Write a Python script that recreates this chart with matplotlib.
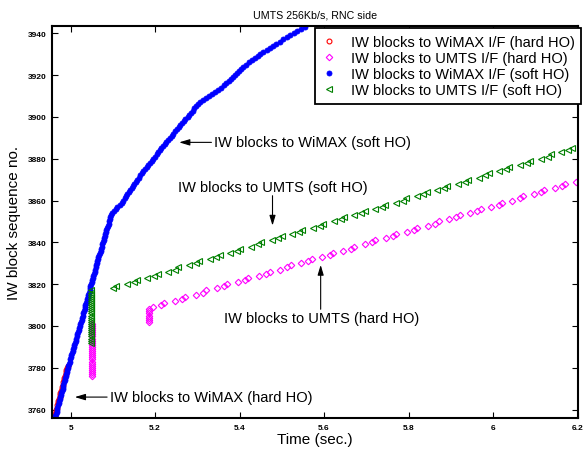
import matplotlib.pyplot as plt

plt.rcParams['font.family'] = ['Liberation Sans', 'DejaVu Sans']

# hard HO, packets to WiMAX I/F
red_seq0 = 3756
red_t = [4.961, 4.962, 4.964, 4.965, 4.966, 4.967, 4.969, 4.970, 4.971, 4.973,
         4.974, 4.975, 4.976, 4.978, 4.979, 4.980, 4.981, 4.983, 4.984, 4.985,
         4.987, 4.988, 4.989, 4.990, 4.992, 4.993]

# hard HO, packets to UMTS I/F
mag_seq0 = 3776
mag_t = [5.050] * 26 + [5.185] * 7 + [
    5.196, 5.213, 5.221, 5.246, 5.263, 5.271, 5.296, 5.313, 5.321, 5.346,
    5.363, 5.371, 5.396, 5.413, 5.421, 5.446, 5.463, 5.471, 5.496, 5.513,
    5.521, 5.546, 5.563, 5.571, 5.596, 5.613, 5.621, 5.646, 5.663, 5.671,
    5.696, 5.713, 5.721, 5.746, 5.763, 5.771, 5.796, 5.813, 5.821, 5.846,
    5.863, 5.871, 5.896, 5.913, 5.921, 5.946, 5.963, 5.971, 5.996, 6.013,
    6.021, 6.046, 6.063, 6.071, 6.096, 6.113, 6.121, 6.146, 6.163, 6.171,
    6.196]

# soft HO, packets to WiMAX I/F
blue_seq0 = 3756
blue_t = [
    4.963, 4.964, 4.966, 4.967, 4.968, 4.969, 4.971, 4.972, 4.973, 4.975,
    4.976, 4.977, 4.978, 4.980, 4.981, 4.982, 4.983, 4.985, 4.986, 4.987,
    4.989, 4.990, 4.991, 4.992, 4.994, 4.995,
    4.996, 4.998, 4.999, 5.000, 5.002, 5.003, 5.005, 5.006, 5.008, 5.009,
    5.010, 5.012, 5.013, 5.015, 5.016, 5.017, 5.019, 5.020, 5.022, 5.023,
    5.025, 5.026, 5.027, 5.029, 5.030,
    5.031, 5.033, 5.034, 5.035, 5.037, 5.038, 5.039, 5.041, 5.042, 5.043,
    5.045, 5.046, 5.047, 5.049, 5.050, 5.051, 5.053, 5.054, 5.055, 5.057,
    5.058, 5.059, 5.061, 5.062,
    5.063, 5.065, 5.066, 5.068, 5.069, 5.071, 5.072, 5.074, 5.075, 5.077,
    5.078, 5.080, 5.081, 5.082, 5.084, 5.085, 5.087, 5.088, 5.090, 5.091,
    5.093, 5.094, 5.096, 5.097,
    5.102, 5.107, 5.111, 5.116, 5.121,
    5.124, 5.128, 5.131, 5.134, 5.138, 5.141, 5.145, 5.148, 5.151, 5.155,
    5.158, 5.162, 5.165, 5.168, 5.172,
    5.176, 5.180, 5.184, 5.188, 5.192, 5.196, 5.200, 5.204, 5.207, 5.211,
    5.215, 5.219, 5.223, 5.227, 5.231, 5.235, 5.239, 5.243,
    5.247, 5.251, 5.256, 5.260, 5.264, 5.268, 5.272, 5.277, 5.281, 5.285,
    5.289, 5.293, 5.298, 5.302, 5.306,
    5.313, 5.320, 5.327, 5.334, 5.341, 5.348, 5.355, 5.362, 5.369,
    5.374, 5.379, 5.384, 5.389, 5.394, 5.399, 5.404, 5.409,
    5.416, 5.422, 5.429, 5.436, 5.443, 5.449, 5.456,
    5.464, 5.472, 5.480, 5.487, 5.495, 5.503,
    5.512, 5.520, 5.529, 5.537, 5.546, 5.554]

# soft HO, packets to UMTS I/F
grn_seq0 = 3792
grn_t = [5.049] * 26 + [
    5.100, 5.108, 5.133, 5.149, 5.157, 5.182, 5.198, 5.206, 5.231, 5.247,
    5.255, 5.280, 5.296, 5.304, 5.329, 5.345, 5.353, 5.378, 5.394, 5.402,
    5.427, 5.443, 5.451, 5.476, 5.492, 5.500, 5.525, 5.541, 5.549, 5.574,
    5.590, 5.598, 5.623, 5.639, 5.647, 5.672, 5.688, 5.696, 5.721, 5.737,
    5.745, 5.770, 5.786, 5.794, 5.819, 5.835, 5.843, 5.868, 5.884, 5.892,
    5.917, 5.933, 5.941, 5.966, 5.982, 5.990, 6.015, 6.031, 6.039, 6.064,
    6.080, 6.088, 6.113, 6.129, 6.137, 6.162, 6.178, 6.186]


def seq(start, times):
    return list(range(start, start + len(times)))


fig = plt.figure(figsize=(5.83, 4.52), dpi=100)
ax = fig.add_axes([52 / 583, 1 - 419 / 452, 525.5 / 583, 391.7 / 452])

ax.plot(red_t, seq(red_seq0, red_t), 'o', ls='none', mfc='none', mec='red',
        ms=3.5, mew=0.8, label='IW blocks to WiMAX I/F (hard HO)')
ax.plot(mag_t, seq(mag_seq0, mag_t), 'D', ls='none', mfc='none', mec='#ff00ff',
        ms=3.3, mew=0.8, label='IW blocks to UMTS I/F (hard HO)')
ax.plot(blue_t, seq(blue_seq0, blue_t), 'o', ls='none', mfc='blue', mec='blue',
        ms=3.6, mew=0.6, label='IW blocks to WiMAX I/F (soft HO)')
ax.plot(grn_t, seq(grn_seq0, grn_t), '<', ls='none', mfc='none', mec='#008000',
        ms=4.2, mew=0.8, label='IW blocks to UMTS I/F (soft HO)')

ax.set_xlim(4.956, 6.2)
ax.set_ylim(3756, 3943.3)
ax.set_xticks([5, 5.2, 5.4, 5.6, 5.8, 6, 6.2])
ax.set_xticklabels(['5', '5.2', '5.4', '5.6', '5.8', '6', '6.2'])
ax.set_yticks(range(3760, 3941, 20))
ax.tick_params(direction='in', length=4, width=0.8, top=True, right=True,
               labelsize=6, pad=4)
for lbl in ax.get_xticklabels() + ax.get_yticklabels():
    lbl.set_fontweight('bold')
for sp in ax.spines.values():
    sp.set_linewidth(1.5)

ax.set_title('UMTS 256Kb/s, RNC side', fontsize=7.7, pad=6)
ax.set_xlabel('Time (sec.)', fontsize=11, labelpad=1)
ax.set_ylabel('IW block sequence no.', fontsize=11, labelpad=5)

leg = ax.legend(loc='upper right', bbox_to_anchor=(1.007, 0.995),
                borderaxespad=0, fontsize=10.5, handlelength=1.0,
                handletextpad=1.0, labelspacing=0.15, borderpad=0.45,
                fancybox=False, framealpha=1, edgecolor='black')
leg.get_frame().set_linewidth(1.3)

arrow = dict(arrowstyle='-|>,head_length=0.6,head_width=0.18', color='black',
             lw=0.8, shrinkA=0, shrinkB=0)
ax.annotate('IW blocks to WiMAX (hard HO)', xy=(5.010, 3766), xytext=(5.093, 3766),
            fontsize=10.5, va='center', ha='left', arrowprops=arrow)
ax.annotate('IW blocks to WiMAX (soft HO)', xy=(5.257, 3887.8), xytext=(5.340, 3887.8),
            fontsize=10.5, va='center', ha='left', arrowprops=arrow)
ax.text(5.254, 3866.6, 'IW blocks to UMTS (soft HO)', fontsize=10.5, va='center', ha='left')
ax.annotate('', xy=(5.478, 3848.0), xytext=(5.478, 3862.3), arrowprops=arrow)
ax.annotate('', xy=(5.592, 3829.2), xytext=(5.592, 3808), arrowprops=arrow)
ax.text(5.363, 3803.7, 'IW blocks to UMTS (hard HO)', fontsize=10.5, va='center', ha='left')

fig.savefig('out.png', dpi=100)
